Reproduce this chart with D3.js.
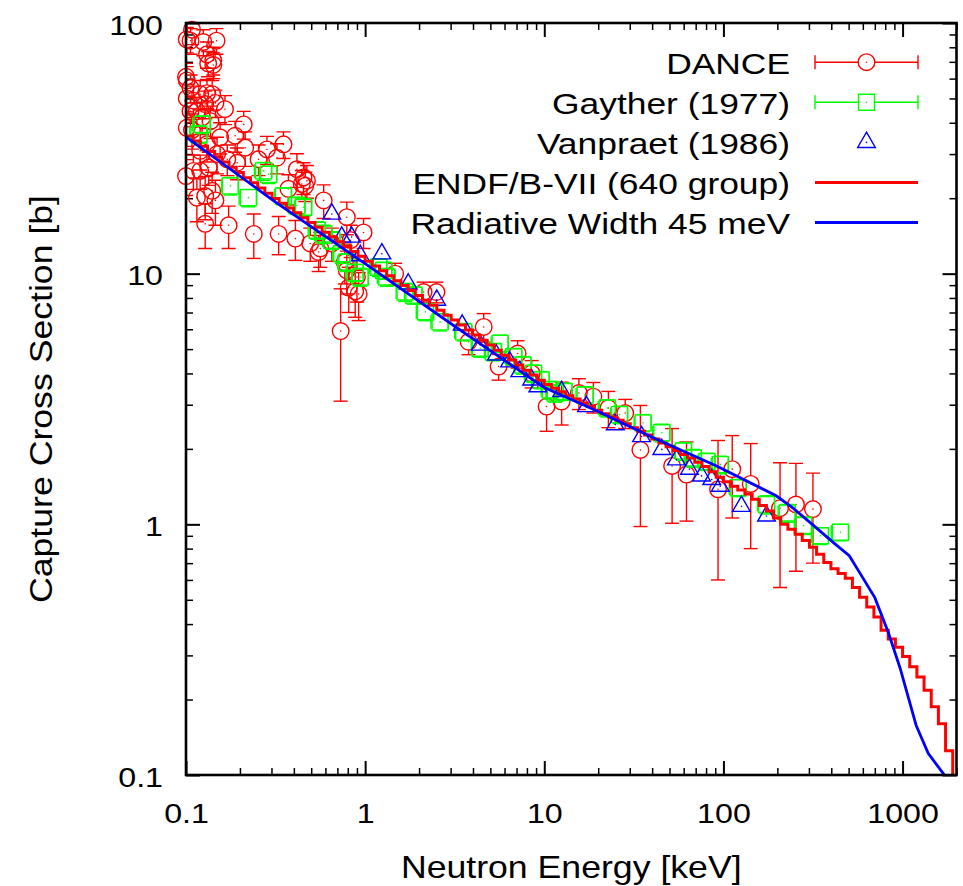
<!DOCTYPE html>
<html>
<head>
<meta charset="utf-8">
<script src="https://cdn.jsdelivr.net/npm/d3@7"></script>
<title>Capture cross section</title>
<style>
body { margin: 0; background: #fff; }
svg { font-family: "Liberation Sans", Arial, sans-serif; }
</style>
</head>
<body>
<div id="chart"></div>
<script>

// ---- data (energies in keV, cross sections in barn) ----
var xMajorTicks = [0.1, 1, 10, 100, 1000];
var xTickLabels = ["0.1", "1", "10", "100", "1000"];
var yMajorTicks = [0.1, 1, 10, 100];
var yTickLabels = ["0.1", "1", "10", "100"];
var seriesNames = ["DANCE", "Gayther (1977)", "Vanpraet (1986)", "ENDF/B-VII (640 group)", "Radiative Width 45 meV"];

// [E, sigma, dSigma]
var danceData = [
  [0.108, 94, 12], [0.101, 86, 10], [0.106, 85, 10], [0.125, 84, 10], [0.148, 85, 10],
  [0.131, 75, 9], [0.142, 71, 9], [0.133, 69, 8], [0.142, 68, 8], [0.100, 61, 8],
  [0.101, 59, 8], [0.106, 55, 7], [0.101, 50, 7], [0.110, 49, 7], [0.120, 52, 7],
  [0.131, 52.5, 7], [0.140, 52, 7], [0.128, 47.5, 6], [0.146, 48, 6], [0.165, 45.3, 6],
  [0.106, 44.5, 6], [0.115, 44.5, 6], [0.123, 42, 6], [0.137, 40.6, 6], [0.101, 38.2, 6],
  [0.108, 37.4, 6], [0.210, 39.4, 5], [0.188, 35.5, 5], [0.214, 31.8, 5], [0.155, 35, 5],
  [0.131, 32.9, 5], [0.120, 30.9, 5], [0.149, 30, 5], [0.170, 28.6, 4], [0.193, 27.7, 4],
  [0.283, 31.3, 4], [0.350, 32.8, 4], [0.254, 28.6, 4], [0.322, 29, 4], [0.416, 26.1, 4],
  [0.453, 24.2, 3.5], [0.473, 23.5, 3.5], [0.100, 24.5, 4], [0.110, 25.7, 4], [0.120, 25.7, 4],
  [0.134, 26.5, 4], [0.115, 20.1, 4], [0.128, 20.4, 4], [0.146, 19.6, 4], [0.140, 21.4, 4],
  [0.128, 15.8, 3.2], [0.173, 15.6, 3], [0.239, 14.4, 2.9], [0.329, 14.4, 2.5], [0.408, 13.8, 2.5],
  [0.443, 22.8, 3], [0.587, 19.6, 3], [0.79, 16.8, 2.5], [0.98, 14.6, 2], [0.83, 13.6, 2],
  [0.494, 13.2, 2], [0.562, 12.6, 2], [0.652, 13.2, 2], [0.79, 10.3, 2], [0.90, 9.7, 2],
  [0.88, 8.5, 1.8], [0.81, 8.8, 1.8], [0.373, 21.8, 3], [0.463, 22.4, 3], [0.55, 12.2, 2],
  [0.77, 11.1, 2], [0.92, 8.3, 1.8], [0.73, 5.9, 2.8], [1.47, 10, 1], [2.12, 8.45, 0.8],
  [2.5, 8.45, 0.8], [4.59, 6.13, 0.8], [3.78, 5.35, 0.6], [5.56, 4.26, 0.5], [7.1, 4.8, 0.6],
  [8.5, 4.0, 0.5], [10.3, 2.95, 0.6], [12.5, 3.09, 0.6], [15.6, 3.34, 0.47], [18.8, 3.23, 0.45],
  [22.8, 2.91, 0.48], [28.3, 2.78, 0.37], [34.4, 1.98, 1.0], [51.7, 1.71, 0.7], [62.2, 1.58, 0.55],
  [93.3, 1.38, 0.78], [112, 1.66, 0.6], [142, 1.45, 0.65], [207, 1.16, 0.6], [254, 1.2, 0.55],
  [316, 1.15, 0.45]
];

// [E, sigma, dE, dSigma]
var gaytherData = [
  [0.118, 36, 0.013, 2.9], [0.123, 39.4, 0.014, 3.2], [0.177, 22.4, 0.019, 1.8], [0.223, 20.1, 0.025, 1.6],
  [0.271, 25.7, 0.030, 2.1], [0.289, 24.9, 0.032, 2.0], [0.35, 20.4, 0.038, 1.6], [0.416, 18.7, 0.046, 1.5],
  [0.453, 18.4, 0.050, 1.5], [0.54, 14.9, 0.059, 1.2], [0.587, 14.4, 0.065, 1.2], [0.652, 13.6, 0.072, 1.1],
  [0.74, 12.0, 0.081, 1.0], [0.79, 11.1, 0.087, 0.9], [0.88, 10.1, 0.097, 0.8], [0.94, 9.7, 0.10, 0.8],
  [1.19, 10.6, 0.13, 0.85], [1.27, 10.3, 0.14, 0.8], [1.32, 9.7, 0.15, 0.8], [1.67, 8.45, 0.18, 0.7],
  [1.87, 8.2, 0.21, 0.65], [2.17, 7.05, 0.24, 0.56], [2.62, 6.42, 0.29, 0.51], [3.55, 5.86, 0.39, 0.47],
  [4.39, 5.04, 0.48, 0.4], [5.2, 4.88, 0.57, 0.39], [5.67, 5.27, 0.62, 0.42], [6.75, 4.66, 0.74, 0.37],
  [7.6, 4.32, 0.84, 0.35], [8.7, 4.0, 0.96, 0.32], [9.6, 3.77, 1.06, 0.3], [10.8, 3.44, 1.19, 0.28],
  [11.5, 3.34, 1.27, 0.27], [12.9, 3.39, 1.42, 0.27], [16.9, 3.28, 1.86, 0.26], [22.5, 2.91, 2.48, 0.23],
  [26.3, 2.74, 2.89, 0.22], [35.6, 2.54, 3.9, 0.2], [45.3, 2.32, 5.0, 0.19], [59.8, 1.96, 6.6, 0.16],
  [67.9, 1.84, 7.5, 0.15], [80.9, 1.78, 8.9, 0.14], [96, 1.73, 10.6, 0.14], [121, 1.40, 13.3, 0.11],
  [174, 1.20, 19, 0.1], [227, 1.11, 25, 0.09], [280, 0.99, 31, 0.08], [348, 0.90, 38, 0.07],
  [450, 0.93, 50, 0.07]
];

// [E, sigma]
var vanpraetData = [
  [0.652, 17.3], [0.74, 14.0], [0.84, 14.0], [0.94, 11.8], [1.24, 12.0], [1.74, 9.1],
  [2.51, 7.84], [3.48, 6.24], [4.39, 5.19], [5.4, 4.74], [6.4, 4.45], [7.3, 4.07],
  [8.5, 3.77], [9.2, 3.54], [12.5, 3.39], [17.2, 2.95], [24.9, 2.5], [34.9, 2.24],
  [45.3, 1.99], [54.6, 1.81], [64.6, 1.66], [75.5, 1.56], [86, 1.51], [96, 1.42],
  [126, 1.18], [174, 1.08]
];

// ENDF/B-VII group values, groups of equal lethargy starting at 0.1 keV
var endfFirstEdge = 0.1, endfGroupsPerDecade = 25;
var endfSigma = [
  35.45, 33.80, 32.21, 30.71, 29.27, 27.90, 26.60, 25.35, 24.16, 23.04,
  21.96, 20.93, 19.95, 19.09, 18.26, 17.48, 16.72, 16.00, 15.30, 14.64,
  14.01, 13.41, 12.82, 12.27, 11.74,
  11.22, 10.73, 10.26, 9.80, 9.37, 8.96, 8.56, 8.18, 7.83, 7.48,
  7.15, 6.83, 6.53, 6.24, 5.96, 5.69, 5.43, 5.19, 4.95, 4.73,
  4.52, 4.32, 4.12, 3.94, 3.76,
  3.61, 3.49, 3.38, 3.26, 3.16, 3.05, 2.95, 2.85, 2.76, 2.68,
  2.60, 2.52, 2.43, 2.35, 2.27, 2.19, 2.11, 2.04, 1.97, 1.90,
  1.84, 1.77, 1.70, 1.62, 1.54,
  1.48, 1.42, 1.37, 1.32, 1.26, 1.19, 1.13, 1.06, 1.00, 0.955,
  0.912, 0.862, 0.811, 0.760, 0.704, 0.665, 0.637, 0.610, 0.560, 0.512,
  0.468, 0.427, 0.378, 0.349, 0.323,
  0.297, 0.270, 0.246, 0.218, 0.187, 0.160, 0.125, 0.09
];

// radiative width 45 meV calculation [E, sigma]
var widthCurve = [
  [0.1, 35.1], [0.316, 19.3], [1, 10.96], [3.16, 6.17], [10, 3.51], [20, 2.82],
  [39.2, 2.24], [91.6, 1.71], [197, 1.30], [245, 1.16], [318, 0.99], [416, 0.84],
  [504, 0.75], [585, 0.63], [700, 0.51], [833, 0.37], [970, 0.266], [1190, 0.158],
  [1390, 0.122], [1710, 0.1], [1800, 0.09]
];

// ---- layout ----
var width = 963, height = 886;
var plot = {left: 186, right: 956.5, top: 23, bottom: 775};
var stretch = 1.15; // text in the original is a bit wide
var red = "#ff0000", green = "#00ff00", blue = "#0000ff";

var svg = d3.select("#chart").append("svg").attr("width", width).attr("height", height);
svg.append("rect").attr("width", width).attr("height", height).attr("fill", "#fff");

svg.append("defs").append("clipPath").attr("id", "plotClip")
  .append("rect")
  .attr("x", plot.left).attr("y", plot.top)
  .attr("width", plot.right - plot.left).attr("height", plot.bottom - plot.top);

var x = d3.scaleLog().domain([0.1, 2000]).range([plot.left, plot.right]);
var y = d3.scaleLog().domain([0.1, 100]).range([plot.bottom, plot.top]);

function isMajor(t) {
  var l = Math.log10(t);
  return Math.abs(l - Math.round(l)) < 1e-6;
}
var xMinor = x.ticks().filter(function(t) { return !isMajor(t); });
var yMinor = y.ticks().filter(function(t) { return !isMajor(t); });

function tidy(g, sw) {
  g.select(".domain").remove();
  g.attr("font-size", null).attr("font-family", null);
  g.selectAll("line").attr("stroke", "#000").attr("stroke-width", sw);
}

// ticks on all four sides, pointing in
svg.append("g").attr("transform", "translate(0," + plot.bottom + ")")
  .call(d3.axisBottom(x).tickValues(xMinor).tickSize(-7).tickFormat(""))
  .call(tidy, 1.5);
svg.append("g").attr("transform", "translate(0," + plot.top + ")")
  .call(d3.axisTop(x).tickValues(xMinor).tickSize(-7).tickFormat(""))
  .call(tidy, 1.5);
svg.append("g").attr("transform", "translate(" + plot.left + ",0)")
  .call(d3.axisLeft(y).tickValues(yMinor).tickSize(-7).tickFormat(""))
  .call(tidy, 1.5);
svg.append("g").attr("transform", "translate(" + plot.right + ",0)")
  .call(d3.axisRight(y).tickValues(yMinor).tickSize(-7).tickFormat(""))
  .call(tidy, 1.5);

var xAxis = svg.append("g").attr("transform", "translate(0," + plot.bottom + ")")
  .call(d3.axisBottom(x).tickValues(xMajorTicks).tickSize(-14)
    .tickFormat(function(d, i) { return xTickLabels[i]; }))
  .call(tidy, 2);
xAxis.selectAll("text")
  .attr("y", 0).attr("dy", null)
  .attr("transform", "translate(0,48) scale(" + stretch + ",1)")
  .attr("font-size", 28).attr("fill", "#000");

svg.append("g").attr("transform", "translate(0," + plot.top + ")")
  .call(d3.axisTop(x).tickValues(xMajorTicks).tickSize(-14).tickFormat(""))
  .call(tidy, 2);

var yAxis = svg.append("g").attr("transform", "translate(" + plot.left + ",0)")
  .call(d3.axisLeft(y).tickValues(yMajorTicks).tickSize(-14)
    .tickFormat(function(d, i) { return yTickLabels[i]; }))
  .call(tidy, 2);
yAxis.selectAll("text")
  .attr("x", 0).attr("dy", null)
  .attr("transform", "translate(-23,11) scale(" + stretch + ",1)")
  .attr("font-size", 28).attr("fill", "#000");

svg.append("g").attr("transform", "translate(" + plot.right + ",0)")
  .call(d3.axisRight(y).tickValues(yMajorTicks).tickSize(-14).tickFormat(""))
  .call(tidy, 2);

// axis titles
svg.append("text")
  .attr("transform", "translate(" + ((plot.left + plot.right) / 2) + ",878) scale(" + stretch + ",1)")
  .attr("text-anchor", "middle").attr("font-size", 31)
  .text("Neutron Energy [keV]");
svg.append("text")
  .attr("transform", "translate(52," + ((plot.top + plot.bottom) / 2) + ") rotate(-90) scale(" + stretch + ",1)")
  .attr("text-anchor", "middle").attr("font-size", 31)
  .text("Capture Cross Section [b]");

// ---- marker helpers ----
var markR = 8.3, sqHalf = 8, capW = 7, markSW = 1.4;

function seg(g, x1, y1, x2, y2, color) {
  g.append("line").attr("x1", x1).attr("y1", y1).attr("x2", x2).attr("y2", y2)
    .attr("stroke", color).attr("stroke-width", markSW);
}
// vertical error bar with caps, leaving the marker interior empty
function vBar(g, cx, cy, yTop, yBot, gap, color) {
  if (yTop < cy - gap) seg(g, cx, yTop, cx, cy - gap, color);
  if (yBot > cy + gap) seg(g, cx, cy + gap, cx, yBot, color);
  seg(g, cx - capW, yTop, cx + capW, yTop, color);
  seg(g, cx - capW, yBot, cx + capW, yBot, color);
}
function hBar(g, cx, cy, xL, xR, gap, color) {
  if (xL < cx - gap) seg(g, xL, cy, cx - gap, cy, color);
  if (xR > cx + gap) seg(g, cx + gap, cy, xR, cy, color);
  seg(g, xL, cy - capW, xL, cy + capW, color);
  seg(g, xR, cy - capW, xR, cy + capW, color);
}
function dot(g, cx, cy, color) {
  g.append("circle").attr("cx", cx).attr("cy", cy).attr("r", 0.8).attr("fill", color);
}
var squareSym = d3.symbol().type(d3.symbolSquare).size(4 * sqHalf * sqHalf);
var triSym = d3.symbol().type(d3.symbolTriangle).size(135);

function circleMark(g, cx, cy) {
  g.append("circle").attr("cx", cx).attr("cy", cy).attr("r", markR)
    .attr("fill", "none").attr("stroke", red).attr("stroke-width", markSW);
  dot(g, cx, cy, red);
}
function squareMark(g, cx, cy) {
  g.append("path").attr("d", squareSym).attr("transform", "translate(" + cx + "," + cy + ")")
    .attr("fill", "none").attr("stroke", green).attr("stroke-width", markSW);
  dot(g, cx, cy, green);
}
function triMark(g, cx, cy) {
  g.append("path").attr("d", triSym).attr("transform", "translate(" + cx + "," + cy + ")")
    .attr("fill", "none").attr("stroke", blue).attr("stroke-width", markSW);
  dot(g, cx, cy, blue);
}

function yLow(v) { return v > 0 ? y(v) : plot.bottom + 20; }

// ---- DANCE ----
var danceBars = svg.append("g").attr("clip-path", "url(#plotClip)");
var danceMarks = svg.append("g");
danceData.forEach(function(d) {
  var cx = x(d[0]), cy = y(d[1]);
  vBar(danceBars, cx, cy, y(d[1] + d[2]), yLow(d[1] - d[2]), markR, red);
  circleMark(danceMarks, cx, cy);
});

// ---- Gayther ----
var gayBars = svg.append("g").attr("clip-path", "url(#plotClip)");
var gayMarks = svg.append("g");
gaytherData.forEach(function(d) {
  var cx = x(d[0]), cy = y(d[1]);
  vBar(gayBars, cx, cy, y(d[1] + d[3]), yLow(d[1] - d[3]), sqHalf, green);
  hBar(gayBars, cx, cy, x(d[0] - d[2]), x(d[0] + d[2]), sqHalf, green);
  squareMark(gayMarks, cx, cy);
});

// ---- Vanpraet ----
var vanMarks = svg.append("g");
vanpraetData.forEach(function(d) { triMark(vanMarks, x(d[0]), y(d[1])); });

// ---- ENDF/B-VII steps ----
var endfPoints = endfSigma.map(function(s, i) {
  return [endfFirstEdge * Math.pow(10, i / endfGroupsPerDecade), s];
});
endfPoints.push([endfFirstEdge * Math.pow(10, endfSigma.length / endfGroupsPerDecade), endfSigma[endfSigma.length - 1]]);

var stepLine = d3.line()
  .x(function(d) { return x(d[0]); })
  .y(function(d) { return y(d[1]); })
  .curve(d3.curveStepAfter);
svg.append("path").datum(endfPoints)
  .attr("clip-path", "url(#plotClip)")
  .attr("d", stepLine)
  .attr("fill", "none").attr("stroke", red).attr("stroke-width", 3);

// ---- radiative width curve ----
var plainLine = d3.line()
  .x(function(d) { return x(d[0]); })
  .y(function(d) { return y(d[1]); });
svg.append("path").datum(widthCurve)
  .attr("clip-path", "url(#plotClip)")
  .attr("d", plainLine)
  .attr("fill", "none").attr("stroke", blue).attr("stroke-width", 2.8);

// ---- frame ----
svg.append("rect")
  .attr("x", plot.left).attr("y", plot.top)
  .attr("width", plot.right - plot.left).attr("height", plot.bottom - plot.top)
  .attr("fill", "none").attr("stroke", "#000").attr("stroke-width", 2.6);

// ---- legend ----
var legend = svg.append("g");
var legTextX = 790, legX1 = 815, legX2 = 918, legMid = 866.5, legTop = 62.2, legStep = 40.1;
seriesNames.forEach(function(name, i) {
  var ly = legTop + i * legStep;
  legend.append("text")
    .attr("transform", "translate(" + legTextX + "," + (ly + 11.5) + ") scale(1.18,1)")
    .attr("text-anchor", "end").attr("font-size", 30)
    .text(name);
  if (i === 0) {
    hBar(legend, legMid, ly, legX1, legX2, markR, red);
    circleMark(legend, legMid, ly);
  } else if (i === 1) {
    hBar(legend, legMid, ly, legX1, legX2, sqHalf, green);
    squareMark(legend, legMid, ly);
  } else if (i === 2) {
    triMark(legend, legMid, ly);
  } else {
    legend.append("line").attr("x1", legX1).attr("x2", legX2).attr("y1", ly).attr("y2", ly)
      .attr("stroke", i === 3 ? red : blue).attr("stroke-width", 3);
  }
});
</script>
</body>
</html>
